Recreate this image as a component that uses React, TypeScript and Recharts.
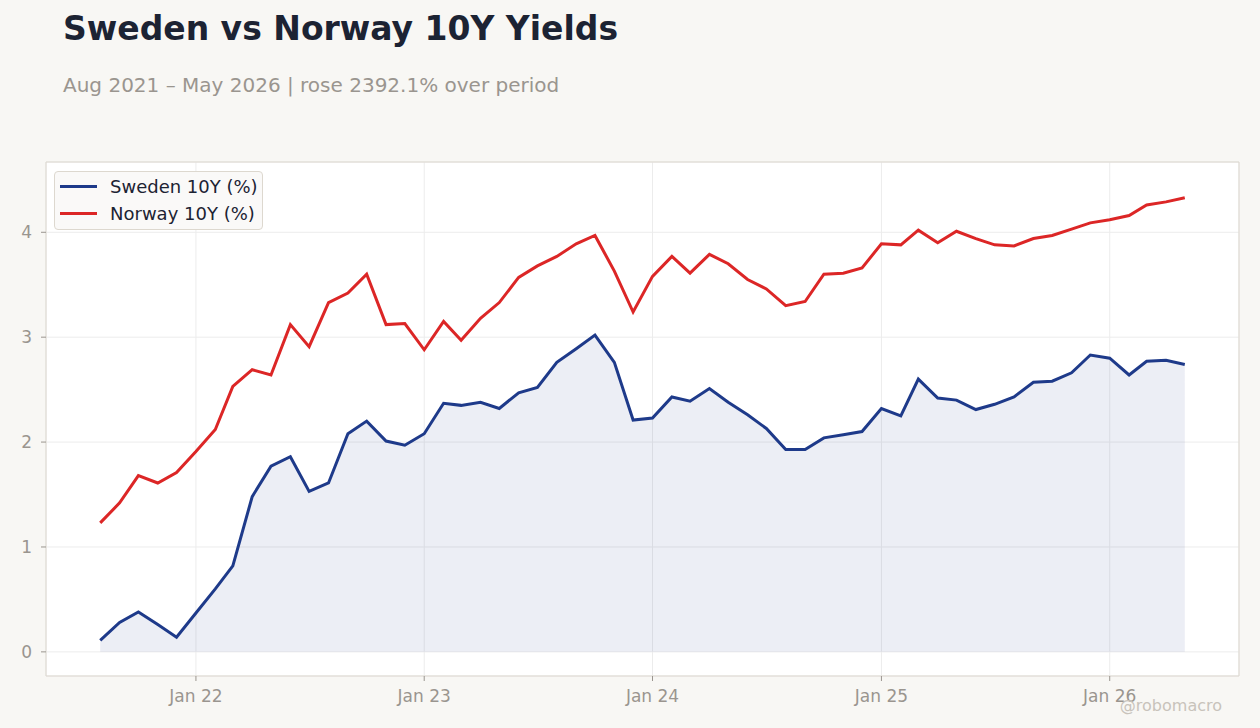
import React from "react";
import {
  ComposedChart,
  Line,
  Area,
  XAxis,
  YAxis,
  CartesianGrid,
  Legend,
  ReferenceArea,
} from "recharts";

// ---- data ----
const months: string[] = [
  "2021-08", "2021-09", "2021-10", "2021-11", "2021-12",
  "2022-01", "2022-02", "2022-03", "2022-04", "2022-05", "2022-06",
  "2022-07", "2022-08", "2022-09", "2022-10", "2022-11", "2022-12",
  "2023-01", "2023-02", "2023-03", "2023-04", "2023-05", "2023-06",
  "2023-07", "2023-08", "2023-09", "2023-10", "2023-11", "2023-12",
  "2024-01", "2024-02", "2024-03", "2024-04", "2024-05", "2024-06",
  "2024-07", "2024-08", "2024-09", "2024-10", "2024-11", "2024-12",
  "2025-01", "2025-02", "2025-03", "2025-04", "2025-05", "2025-06",
  "2025-07", "2025-08", "2025-09", "2025-10", "2025-11", "2025-12",
  "2026-01", "2026-02", "2026-03", "2026-04", "2026-05",
];

const sweden10y: number[] = [
  0.11, 0.28, 0.38, 0.26, 0.14,
  0.37, 0.6, 0.82, 1.48, 1.77, 1.86,
  1.53, 1.61, 2.08, 2.2, 2.01, 1.97,
  2.08, 2.37, 2.35, 2.38, 2.32, 2.47,
  2.52, 2.76, 2.89, 3.02, 2.76, 2.21,
  2.23, 2.43, 2.39, 2.51, 2.38, 2.26,
  2.13, 1.93, 1.93, 2.04, 2.07, 2.1,
  2.32, 2.25, 2.6, 2.42, 2.4, 2.31,
  2.36, 2.43, 2.57, 2.58, 2.66, 2.83,
  2.8, 2.64, 2.77, 2.78, 2.74,
];

const norway10y: number[] = [
  1.23, 1.42, 1.68, 1.61, 1.71,
  1.91, 2.12, 2.53, 2.69, 2.64, 3.12,
  2.91, 3.33, 3.42, 3.6, 3.12, 3.13,
  2.88, 3.15, 2.97, 3.18, 3.33, 3.57,
  3.68, 3.77, 3.89, 3.97, 3.63, 3.24,
  3.58, 3.77, 3.61, 3.79, 3.7, 3.55,
  3.46, 3.3, 3.34, 3.6, 3.61, 3.66,
  3.89, 3.88, 4.02, 3.9, 4.01, 3.94,
  3.88, 3.87, 3.94, 3.97, 4.03, 4.09,
  4.12, 4.16, 4.26, 4.29, 4.33,
];

const seriesNames: string[] = ["Sweden 10Y (%)", "Norway 10Y (%)"];
const xTickDates: string[] = ["2022-01", "2023-01", "2024-01", "2025-01", "2026-01"];
const yTicks: number[] = [0, 1, 2, 3, 4];
const yDomain: [number, number] = [-0.23, 4.67];

const TITLE = "Sweden vs Norway 10Y Yields";
const SUBTITLE = "Aug 2021 \u2013 May 2026 | rose 2392.1% over period";
const WATERMARK = "@robomacro";

// ---- helpers ----
const toTs = (m: string) => {
  const [y, mo] = m.split("-").map(Number);
  return Date.UTC(y, mo - 1, 1);
};

const data = months.map((m, i) => ({
  t: toTs(m),
  sweden: sweden10y[i],
  norway: norway10y[i],
}));

const tMin = toTs(months[0]);
const tMax = toTs(months[months.length - 1]);
const span = tMax - tMin;
const xDomain: [number, number] = [tMin - span * 0.05, tMax + span * 0.05];
const xTicks = xTickDates.map(toTs);

const MONTH_ABBR = ["Jan", "Feb", "Mar", "Apr", "May", "Jun", "Jul", "Aug", "Sep", "Oct", "Nov", "Dec"];
const fmtX = (v: number) => {
  const d = new Date(v);
  return `${MONTH_ABBR[d.getUTCMonth()]} ${String(d.getUTCFullYear()).slice(2)}`;
};

const FONT = "'DejaVu Sans', sans-serif";
const BLUE = "#1e3a8a";
const RED = "#dc2626";
const TICK_COLOR = "#9a958f";
const BORDER = "#ddd8cf";

const LegendBox = (props: any) => {
  const items = (props.payload || [])
    .filter((p: any) => p.type !== "none")
    .slice()
    .sort((a: any, b: any) => seriesNames.indexOf(a.value) - seriesNames.indexOf(b.value));
  return (
    <div
      style={{
        width: 209,
        height: 59,
        boxSizing: "border-box",
        border: `1px solid ${BORDER}`,
        borderRadius: 4,
        background: "rgba(250,249,247,0.92)",
        paddingTop: 1,
        fontFamily: FONT,
      }}
    >
      {items.map((it: any) => (
        <div key={it.value} style={{ height: 27, display: "flex", alignItems: "center" }}>
          <div style={{ width: 37, height: 3, marginLeft: 5, background: it.color }} />
          <span style={{ marginLeft: 13, fontSize: 18, color: "#1c2333", lineHeight: "20px", whiteSpace: "nowrap" }}>
            {it.value}
          </span>
        </div>
      ))}
    </div>
  );
};

export default function App() {
  return (
    <div
      style={{
        position: "absolute",
        left: 0,
        top: 0,
        width: 1260,
        height: 728,
        background: "#f8f7f4",
        overflow: "hidden",
      }}
    >
      <ComposedChart
        width={1260}
        height={728}
        data={data}
        margin={{ top: 162, right: 21, bottom: 22, left: 6 }}
      >
        <CartesianGrid stroke="#ececec" fill="#ffffff" />
        <XAxis
          dataKey="t"
          type="number"
          scale="time"
          domain={xDomain}
          ticks={xTicks}
          tickFormatter={fmtX}
          allowDataOverflow
          axisLine={false}
          tickLine={{ stroke: TICK_COLOR }}
          tickSize={5}
          tickMargin={9}
          height={30}
          tick={{ fill: TICK_COLOR, fontSize: 17, fontFamily: FONT }}
        />
        <YAxis
          type="number"
          domain={yDomain}
          ticks={yTicks}
          allowDataOverflow
          axisLine={false}
          tickLine={{ stroke: TICK_COLOR }}
          tickSize={5}
          tickMargin={9}
          width={40}
          tick={{ fill: TICK_COLOR, fontSize: 17, fontFamily: FONT }}
        />
        <Area
          dataKey="sweden"
          type="linear"
          baseValue={0}
          fill={BLUE}
          fillOpacity={0.085}
          stroke={BLUE}
          strokeOpacity={0.06}
          strokeWidth={1}
          legendType="none"
          isAnimationActive={false}
          dot={false}
          activeDot={false}
        />
        <Line
          dataKey="sweden"
          name={seriesNames[0]}
          type="linear"
          stroke={BLUE}
          strokeWidth={3}
          dot={false}
          activeDot={false}
          isAnimationActive={false}
        />
        <Line
          dataKey="norway"
          name={seriesNames[1]}
          type="linear"
          stroke={RED}
          strokeWidth={3}
          dot={false}
          activeDot={false}
          isAnimationActive={false}
        />
        <ReferenceArea
          x1={xDomain[0]}
          x2={xDomain[1]}
          y1={yDomain[0]}
          y2={yDomain[1]}
          fill="none"
          stroke={BORDER}
          strokeWidth={1}
          ifOverflow="visible"
        />
        <Legend
          layout="vertical"
          align="center"
          verticalAlign="middle"
          content={<LegendBox />}
          wrapperStyle={{ position: "absolute", left: 54, top: 171, width: 209, height: 59 }}
        />
      </ComposedChart>
      <svg
        width={1260}
        height={728}
        style={{ position: "absolute", left: 0, top: 0, pointerEvents: "none" }}
      >
        <text x={63} y={40} fontFamily={FONT} fontWeight="bold" fontSize={33} fill="#1c2333">
          {TITLE}
        </text>
        <text x={63} y={92} fontFamily={FONT} fontSize={20} fill={TICK_COLOR}>
          {SUBTITLE}
        </text>
        <text x={1222} y={711} textAnchor="end" fontFamily={FONT} fontSize={16} fill="#c8c3bb">
          {WATERMARK}
        </text>
      </svg>
    </div>
  );
}
